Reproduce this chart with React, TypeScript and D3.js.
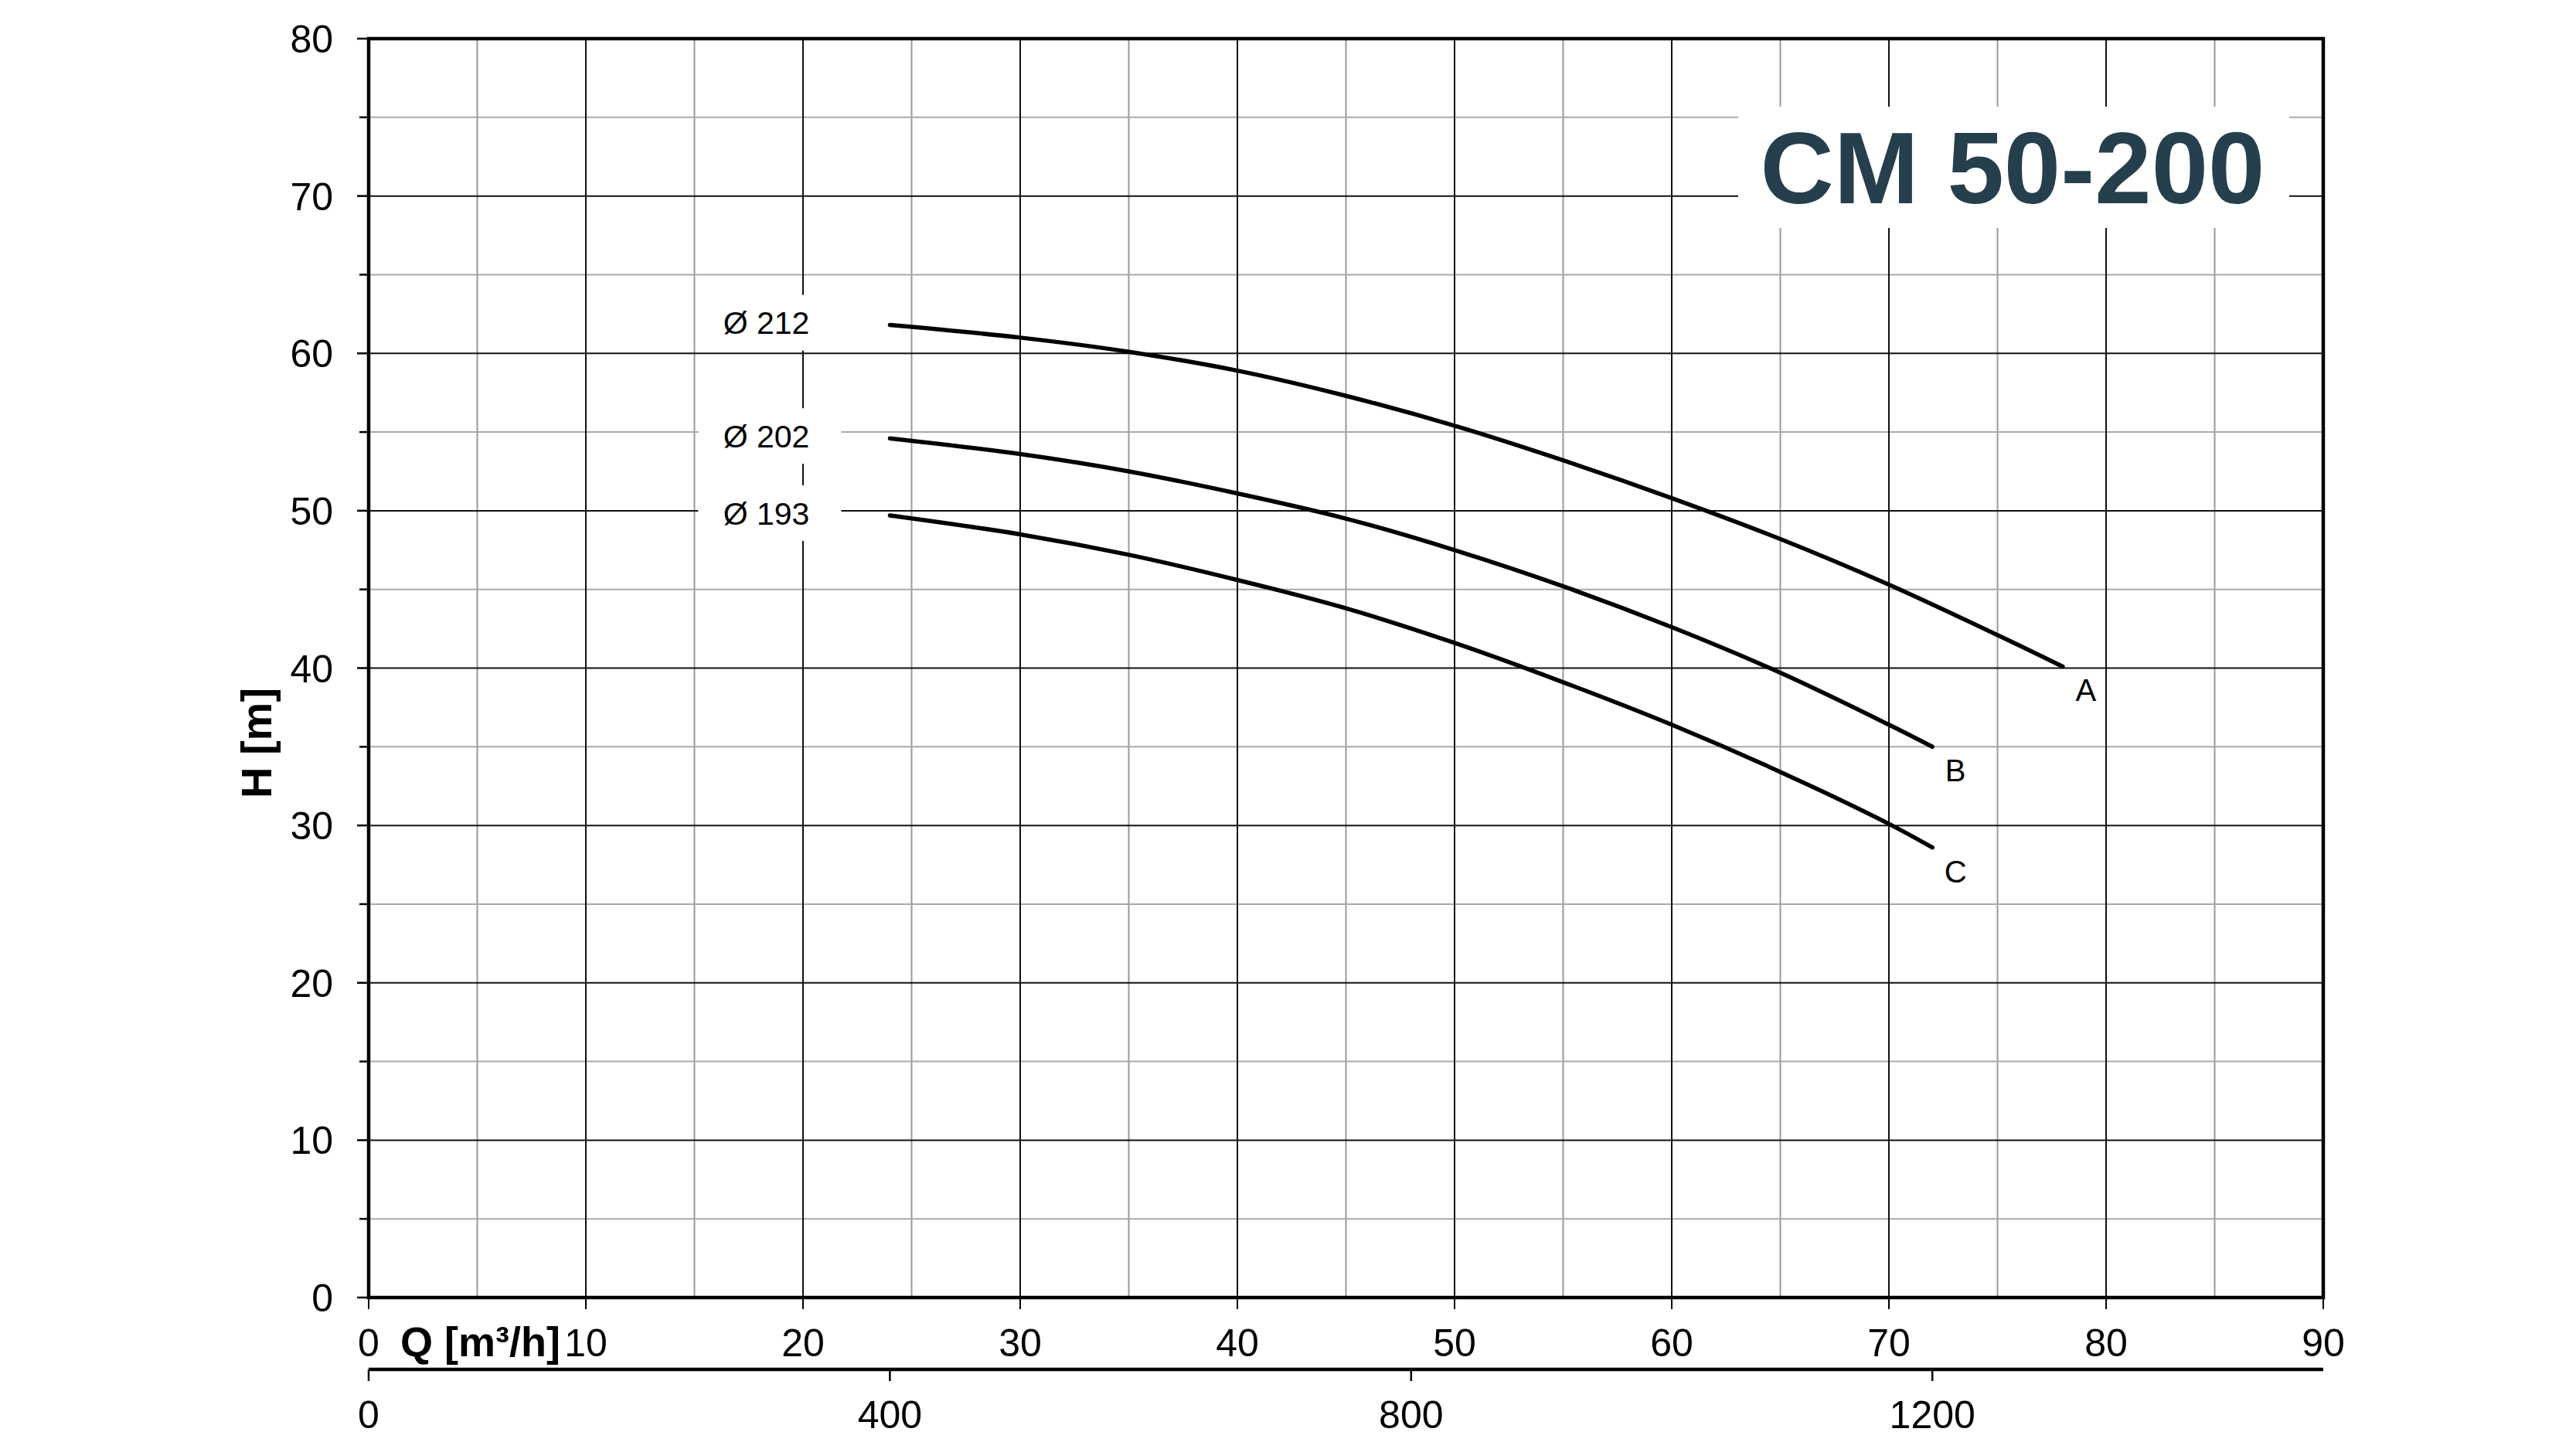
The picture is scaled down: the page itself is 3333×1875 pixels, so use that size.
import * as d3 from 'd3';

// pump curves (Q in m3/h, H in m)
const qA = [24, 30, 35, 40, 45, 50, 55, 60, 65, 70, 75, 78];
const hA = [61.8, 61.0, 60.1, 58.9, 57.3, 55.4, 53.2, 50.8, 48.2, 45.3, 42.1, 40.1];
const qBC = [24, 30, 35, 40, 45, 50, 55, 60, 65, 70, 72];
const hB = [54.6, 53.6, 52.5, 51.1, 49.5, 47.5, 45.2, 42.6, 39.7, 36.4, 35.0];
const hC = [49.7, 48.5, 47.2, 45.6, 43.8, 41.6, 39.1, 36.4, 33.4, 30.1, 28.6];

const impellers = ['Ø 212', 'Ø 202', 'Ø 193'];
const curveNames = ['A', 'B', 'C'];

const hTicks = [0, 10, 20, 30, 40, 50, 60, 70, 80];
const qTicks = [0, 10, 20, 30, 40, 50, 60, 70, 80, 90];
const lpmTicks = [0, 400, 800, 1200];
const title = 'CM 50-200';

const W = 3333;
const H = 1875;
const left = 477;
const right = 3006;
const top = 50;
const bottom = 1679;
const font = '"Liberation Sans", Arial, Helvetica, sans-serif';

const App = () => {
  const x = d3.scaleLinear().domain([0, 90]).range([left, right]);
  const y = d3.scaleLinear().domain([0, 80]).range([bottom, top]);
  const xl = d3.scaleLinear().domain([0, 1500]).range([left, right]);

  const series = [
    { q: qA, h: hA },
    { q: qBC, h: hB },
    { q: qBC, h: hC },
  ].map((s, i) => ({
    pts: s.q.map((q, j) => [q, s.h[j]] as [number, number]),
    label: impellers[i],
    name: curveNames[i],
  }));

  const line = d3
    .line<[number, number]>()
    .curve(d3.curveCatmullRom.alpha(0.5))
    .x(d => x(d[0]))
    .y(d => y(d[1]));

  const minorQ = d3.range(5, 90, 10);
  const minorH = d3.range(5, 80, 10);
  const tickH = d3.range(0, 81, 5);

  return (
    <svg
      width={W}
      height={H}
      viewBox={`0 0 ${W} ${H}`}
      style={{ position: 'absolute', left: 0, top: 0, background: '#fff' }}
      fontFamily={font}
    >
      <rect width={W} height={H} fill="#fff" />

      {/* grid */}
      <g>
        {minorQ.map(q => (
          <line key={`mq${q}`} x1={x(q)} x2={x(q)} y1={top} y2={bottom} stroke="#999" strokeWidth={2} />
        ))}
        {minorH.map(h => (
          <line key={`mh${h}`} x1={left} x2={right} y1={y(h)} y2={y(h)} stroke="#aaa" strokeWidth={2} />
        ))}
        {qTicks.slice(1, -1).map(q => (
          <line key={`q${q}`} x1={x(q)} x2={x(q)} y1={top} y2={bottom} stroke="#111" strokeWidth={2} />
        ))}
        {hTicks.slice(1, -1).map(h => (
          <line key={`h${h}`} x1={left} x2={right} y1={y(h)} y2={y(h)} stroke="#111" strokeWidth={2} />
        ))}
      </g>

      {/* frame */}
      <rect x={left} y={top} width={right - left} height={bottom - top} fill="none" stroke="#000" strokeWidth={4.5} />

      {/* y ticks */}
      {tickH.map(h => (
        <line
          key={`yt${h}`}
          x1={left - (h % 10 === 0 ? 15 : 12)}
          x2={left}
          y1={y(h)}
          y2={y(h)}
          stroke="#000"
          strokeWidth={2.5}
        />
      ))}
      {hTicks.map(h => (
        <text key={`yl${h}`} x={left - 46} y={y(h)} dy="0.36em" textAnchor="end" fontSize={50} fill="#000">
          {h}
        </text>
      ))}
      <text
        transform={`translate(351,${(top + bottom) / 2 + 97}) rotate(-90)`}
        textAnchor="middle"
        fontSize={56}
        fontWeight="bold"
        fill="#000"
      >
        H [m]
      </text>

      {/* Q axis (m3/h) */}
      {qTicks.map(q => (
        <line key={`xt${q}`} x1={x(q)} x2={x(q)} y1={bottom} y2={bottom + 15} stroke="#000" strokeWidth={2} />
      ))}
      {qTicks.map(q => (
        <text key={`xl${q}`} x={x(q)} y={1755} textAnchor="middle" fontSize={50} fill="#000">
          {q}
        </text>
      ))}
      <text x={518} y={1755} fontSize={54} fontWeight="bold" fill="#000">
        Q [m³/h]
      </text>

      {/* second axis (l/min) */}
      <line x1={left} x2={right} y1={1772} y2={1772} stroke="#000" strokeWidth={4.5} />
      {lpmTicks.map(v => (
        <line key={`lt${v}`} x1={xl(v)} x2={xl(v)} y1={1772} y2={1787} stroke="#000" strokeWidth={2.5} />
      ))}
      {lpmTicks.map(v => (
        <text key={`ll${v}`} x={xl(v)} y={1848} textAnchor="middle" fontSize={50} fill="#000">
          {v}
        </text>
      ))}

      {/* title */}
      <rect x={2249} y={138} width={713} height={157} fill="#fff" />
      <text x={2604} y={263} textAnchor="middle" fontSize={132} fontWeight="bold" fill="#263f4d">
        {title}
      </text>

      {/* curves */}
      {series.map(s => {
        const [q0, h0] = s.pts[0];
        const [q1, h1] = s.pts[s.pts.length - 1];
        const tx = x(q0) - 104;
        const ty = y(h0) - 3;
        return (
          <g key={s.name}>
            <rect x={tx - 144} y={ty - 36} width={185} height={72} fill="#fff" />
            <text x={tx} y={ty} dy="0.36em" textAnchor="end" fontSize={41} fill="#000">
              {s.label}
            </text>
            <path d={line(s.pts) ?? ''} fill="none" stroke="#000" strokeWidth={5.5} strokeLinecap="round" />
            <text x={x(q1) + 30} y={y(h1) + 45} textAnchor="middle" fontSize={40} fill="#000">
              {s.name}
            </text>
          </g>
        );
      })}
    </svg>
  );
};

export default App;
